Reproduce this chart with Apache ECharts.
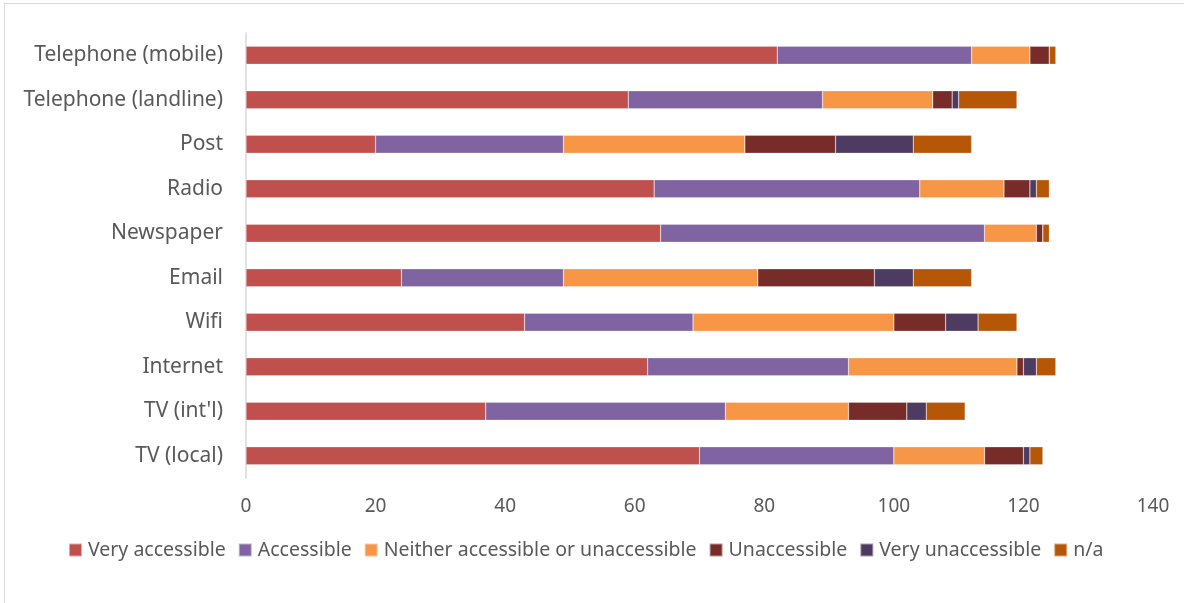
<!DOCTYPE html>
<html><head><meta charset="utf-8">
<script src="https://cdn.jsdelivr.net/npm/echarts@6/dist/echarts.min.js"></script>
<style>
html,body{margin:0;padding:0;background:#fff;}
#frame{position:absolute;left:4px;top:3px;width:1200px;height:620px;border:1.5px solid #d9d9d9;box-sizing:border-box;}
#chart{position:absolute;left:0;top:0;width:1184px;height:603px;}
</style></head>
<body>
<div id="frame"></div>
<div id="chart"></div>
<script>
const categories = ["TV (local)","TV (int'l)","Internet","Wifi","Email","Newspaper","Radio","Post","Telephone (landline)","Telephone (mobile)"];
const seriesNames = ["Very accessible","Accessible","Neither accessible or unaccessible","Unaccessible","Very unaccessible","n/a"];
const veryAccessible   = [70, 37, 62, 43, 24, 64, 63, 20, 59, 82];
const accessible       = [30, 37, 31, 26, 25, 50, 41, 29, 30, 30];
const neither          = [14, 19, 26, 31, 30,  8, 13, 28, 17,  9];
const unaccessible     = [ 6,  9,  1,  8, 18,  1,  4, 14,  3,  3];
const veryUnaccessible = [ 1,  3,  2,  5,  6,  0,  1, 12,  1,  0];
const na               = [ 2,  6,  3,  6,  9,  1,  2,  9,  9,  1];
const xTicks = [0, 20, 40, 60, 80, 100, 120, 140];
const colors = ["#C0504D","#8064A2","#F79646","#772C2A","#4D3B62","#B65708"];
const allData = [veryAccessible, accessible, neither, unaccessible, veryUnaccessible, na];

const font = "'Noto Sans', 'Open Sans', sans-serif";
const chart = echarts.init(document.getElementById('chart'), null, {renderer:'canvas'});
chart.setOption({
  animation:false,
  color: colors,
  grid:{left:246, right:31, top:33, bottom:125, containLabel:false},
  legend:{
    left:63, top:535, itemWidth:13, itemHeight:13, itemGap:12,
    icon:'rect',
    textStyle:{fontFamily:font, fontSize:19.5, color:'#595959', padding:[0,0,0,1]},
    data: seriesNames
  },
  xAxis:{
    type:'value', min:xTicks[0], max:xTicks[xTicks.length-1], interval:20,
    axisLine:{show:false}, axisTick:{show:false}, splitLine:{show:false},
    axisLabel:{fontFamily:font, fontSize:19, color:'#595959', margin:19}
  },
  yAxis:{
    type:'category', data:categories,
    axisLine:{show:true, lineStyle:{color:'#d9d9d9', width:1.5}},
    axisTick:{show:false},
    axisLabel:{fontFamily:font, fontSize:21, color:'#595959', margin:23}
  },
  series: seriesNames.map((n,i)=>({
    name:n, type:'bar', stack:'total', data: allData[i],
    barWidth:18,
    itemStyle:{color:colors[i], borderColor:'rgba(255,255,255,0.5)', borderWidth:0.5}
  }))
});
</script>
</body></html>
